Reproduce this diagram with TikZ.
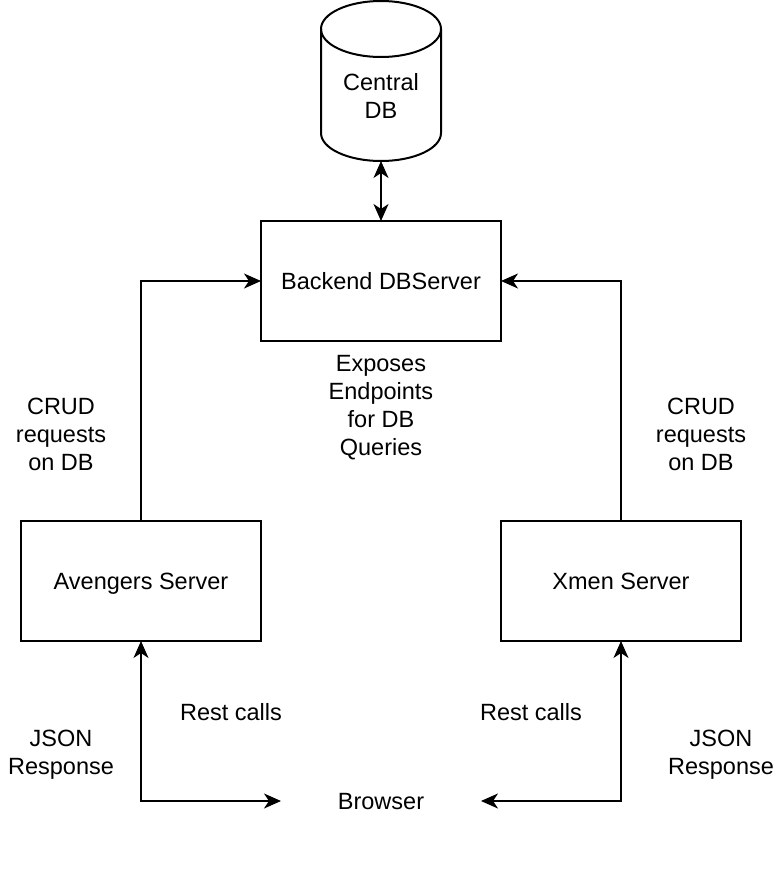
\documentclass[tikz,border=0pt]{standalone}
\usepackage{fontspec}
\setmainfont{Liberation Sans}
\usetikzlibrary{arrows.meta}
\begin{document}
\begin{tikzpicture}[x=1pt,y=-1pt,
  every node/.style={font=\fontsize{23.5}{28}\selectfont, align=center, inner sep=0pt, outer sep=0pt},
  oneline/.style={text height=19.5pt, text depth=2.5pt},
  box/.style={draw, line width=2pt, minimum width=240pt, minimum height=120pt, oneline},
  conn/.style={line width=2pt, -{Stealth[length=17pt,width=15pt,inset=5pt]}},
  dconn/.style={line width=2pt, {Stealth[length=17pt,width=15pt,inset=5pt]}-{Stealth[length=17pt,width=15pt,inset=5pt]}}
]
\useasboundingbox (0,0) rectangle (782,872);
% cylinder
\draw[line width=2pt] (321,29) -- (321,133) arc[start angle=180, end angle=0, x radius=60, y radius=28] -- (441,29);
\draw[line width=2pt] (381,29) ellipse[x radius=60, y radius=28];
\node[minimum width=120pt, minimum height=160pt] (db) at (381,81) {};
\node (dbtext) at (381,96) {Central\\DB};
\node[box] (backend) at (381,281) {Backend DBServer};
\node[box] (av) at (141,581) {Avengers Server};
\node[box] (xm) at (621,581) {Xmen Server};
\node[oneline, minimum width=200pt] (browser) at (381,801) {Browser};
\node (exposes) at (381,408) {Exposes\\Endpoints\\for DB\\Queries};
\node (crudl) at (61,434) {CRUD\\requests\\on DB};
\node (crudr) at (701,434) {CRUD\\requests\\on DB};
\node[oneline] (restl) at (231,712) {Rest calls};
\node[oneline] (restr) at (531,712) {Rest calls};
\node (jsonl) at (61,755) {JSON\\Response};
\node (jsonr) at (721,755) {JSON\\Response};
\draw[dconn] (db.south) -- (backend.north);
\draw[conn] (av.north) |- (backend.west);
\draw[conn] (xm.north) |- (backend.east);
\draw[dconn] (av.south) |- (browser.west);
\draw[dconn] (xm.south) |- (browser.east);
\end{tikzpicture}
\end{document}
